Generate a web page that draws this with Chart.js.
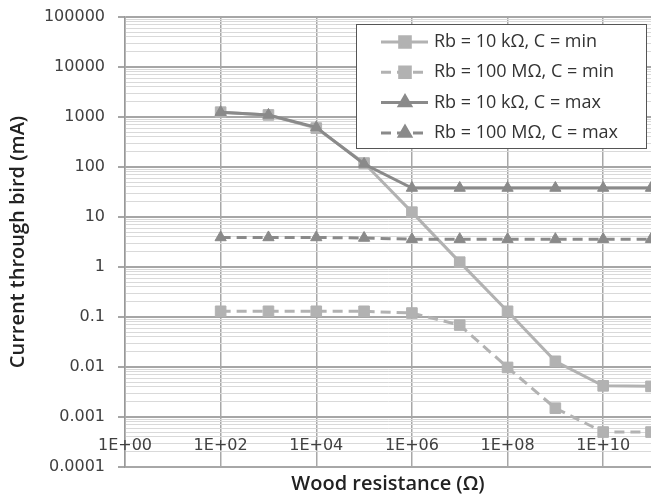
<!DOCTYPE html>
<html>
<head>
<meta charset="utf-8">
<script src="https://cdn.jsdelivr.net/npm/chart.js@4.4.1/dist/chart.umd.min.js"></script>
<style>
  html, body { margin: 0; padding: 0; background: #fff; overflow: hidden; }
  #wrap { width: 651px; height: 500px; }
  canvas { display: block; }
</style>
</head>
<body>
<div id="wrap"><canvas id="birdChart" width="651" height="500"></canvas></div>
<script>
// Wood resistance (ohm) at each measured point
const woodResistance = [1e2, 1e3, 1e4, 1e5, 1e6, 1e7, 1e8, 1e9, 1e10, 1e11];

// Current through bird (mA)
const rb10kMin = [1250, 1100, 600, 120, 12.5, 1.25, 0.13, 0.013, 0.0042, 0.0041];
const rb100MMin = [0.13, 0.13, 0.13, 0.13, 0.12, 0.069, 0.0098, 0.0015, 0.0005, 0.0005];
const rb10kMax = [1250, 1100, 620, 115, 38, 38, 38, 38, 38, 38];
const rb100MMax = [3.9, 3.9, 3.9, 3.8, 3.6, 3.6, 3.6, 3.6, 3.6, 3.6];

const seriesNames = [
  "Rb = 10 k\u03A9, C = min",
  "Rb = 100 M\u03A9, C = min",
  "Rb = 10 k\u03A9, C = max",
  "Rb = 100 M\u03A9, C = max",
];

// Axis ticks
const yTickValues = [1e-4, 1e-3, 1e-2, 1e-1, 1, 10, 100, 1000, 10000, 100000];
const yTickLabels = ["0.0001", "0.001", "0.01", "0.1", "1", "10", "100", "1000", "10000", "100000"];
const xTickValues = [1, 1e2, 1e4, 1e6, 1e8, 1e10];
const xTickLabels = ["1E+00", "1E+02", "1E+04", "1E+06", "1E+08", "1E+10"];
const xLabelCrossAt = 0.001;

const LIGHT = "#b2b2b2";
const DARK = "#8a8a8a";
const TICK_FONT = '16px "DejaVu Sans"';

function toPoints(values) {
  return values.map((v, i) => ({ x: woodResistance[i], y: v }));
}

// x tick labels sit just below the 0.001 line, like the original
const xLabelPlugin = {
  id: "xLabels",
  beforeDatasetsDraw(chart) {
    const { ctx, scales } = chart;
    const baseY = scales.y.getPixelForValue(xLabelCrossAt);
    ctx.save();
    ctx.font = TICK_FONT;
    ctx.fillStyle = "#404040";
    ctx.textAlign = "center";
    ctx.textBaseline = "middle";
    xTickValues.forEach((v, i) => {
      ctx.fillText(xTickLabels[i], scales.x.getPixelForValue(v), baseY + 29);
    });
    ctx.restore();
  },
};

// legend box in the top right corner of the plot
const legendBoxPlugin = {
  id: "legendBox",
  afterDraw(chart) {
    const ctx = chart.ctx;
    const area = chart.chartArea;
    const left = area.right - 295;
    const top = area.top + 7;
    ctx.save();
    ctx.fillStyle = "#fff";
    ctx.fillRect(left, top, 290, 124);
    ctx.strokeStyle = "#555";
    ctx.lineWidth = 1;
    ctx.strokeRect(left + 0.5, top + 0.5, 290, 124);

    chart.data.datasets.forEach((ds, i) => {
      const rowY = top + 18 + i * 30.3;
      ctx.strokeStyle = ds.borderColor;
      ctx.lineWidth = ds.borderWidth;
      ctx.setLineDash(ds.borderDash || []);
      ctx.beginPath();
      ctx.moveTo(left + 25, rowY);
      ctx.lineTo(left + 72, rowY);
      ctx.stroke();
      ctx.setLineDash([]);
      ctx.fillStyle = ds.pointBackgroundColor;
      ctx.strokeStyle = ds.pointBorderColor;
      Chart.helpers.drawPoint(
        ctx,
        { pointStyle: ds.pointStyle, radius: ds.pointRadius, rotation: 0, borderWidth: 1 },
        left + 49,
        rowY
      );
      ctx.font = '18px "Open Sans"';
      ctx.fillStyle = "#333";
      ctx.textAlign = "left";
      ctx.textBaseline = "middle";
      ctx.fillText(ds.label, left + 78, rowY);
    });
    ctx.restore();
  },
};

function makeSeries(label, values, color, dashed, style, order) {
  return {
    label: label,
    data: toPoints(values),
    borderColor: color,
    backgroundColor: color,
    borderWidth: 3,
    borderDash: dashed ? [10, 6] : [],
    pointStyle: style,
    pointRadius: style === "rect" ? 7.5 : 6.5,
    pointBackgroundColor: color,
    pointBorderColor: color,
    pointBorderWidth: 1,
    tension: 0,
    order: order,
  };
}

const birdChart = new Chart(document.getElementById("birdChart"), {
  type: "line",
  data: {
    datasets: [
      makeSeries(seriesNames[0], rb10kMin, LIGHT, false, "rect", 2),
      makeSeries(seriesNames[1], rb100MMin, LIGHT, true, "rect", 3),
      makeSeries(seriesNames[2], rb10kMax, DARK, false, "triangle", 0),
      makeSeries(seriesNames[3], rb100MMax, DARK, true, "triangle", 1),
    ],
  },
  options: {
    responsive: false,
    animation: false,
    layout: {
      autoPadding: false,
      padding: { left: 0, top: 17, right: -2, bottom: 0 },
    },
    scales: {
      x: {
        type: "logarithmic",
        min: 1,
        max: 1e11,
        afterBuildTicks(scale) {
          scale.ticks = xTickValues.map((v) => ({ value: v, major: true }));
        },
        afterFit(scale) {
          scale.height = 33;
          scale.paddingLeft = 0;
          scale.paddingRight = 0;
        },
        ticks: { display: false },
        grid: {
          color: "#a8a8a8",
          lineWidth: 1.5,
          drawTicks: false,
        },
        border: { color: "#a8a8a8", width: 1.5 },
        title: {
          display: true,
          text: "Wood resistance (\u03A9)",
          color: "#222",
          font: { family: "Open Sans", size: 20, weight: "600" },
          padding: { top: 0, bottom: 4 },
        },
      },
      y: {
        type: "logarithmic",
        min: 1e-4,
        max: 1e5,
        afterBuildTicks(scale) {
          const ticks = [];
          yTickValues.forEach((v, i) => {
            ticks.push({ value: v, major: true });
            if (i < yTickValues.length - 1) {
              for (let m = 2; m <= 9; m++) ticks.push({ value: v * m, major: false });
            }
          });
          scale.ticks = ticks;
        },
        afterFit(scale) {
          scale.width = 125;
          scale.paddingTop = 0;
          scale.paddingBottom = 0;
        },
        ticks: {
          autoSkip: false,
          padding: 13,
          color: "#404040",
          font: { family: "DejaVu Sans", size: 16 },
          callback: function (value) {
            const idx = yTickValues.findIndex((v) => Math.abs(v - value) / v < 1e-6);
            return idx >= 0 ? yTickLabels[idx] : "";
          },
        },
        grid: {
          color: (ctx) => (ctx.tick && ctx.tick.major ? "#a6a6a6" : "#d9d9d9"),
          lineWidth: (ctx) => (ctx.tick && ctx.tick.major ? 2 : 1),
          tickColor: (ctx) => (ctx.tick && ctx.tick.major ? "#a6a6a6" : "rgba(0,0,0,0)"),
          tickLength: 7,
        },
        border: { color: "#999", width: 1.5 },
        title: {
          display: true,
          text: "Current through bird (mA)",
          color: "#222",
          font: { family: "Open Sans", size: 20, weight: "600" },
          padding: { top: 6, bottom: 0 },
        },
      },
    },
    plugins: {
      legend: { display: false },
      tooltip: { enabled: false },
    },
  },
  plugins: [xLabelPlugin, legendBoxPlugin],
});
</script>
</body>
</html>
